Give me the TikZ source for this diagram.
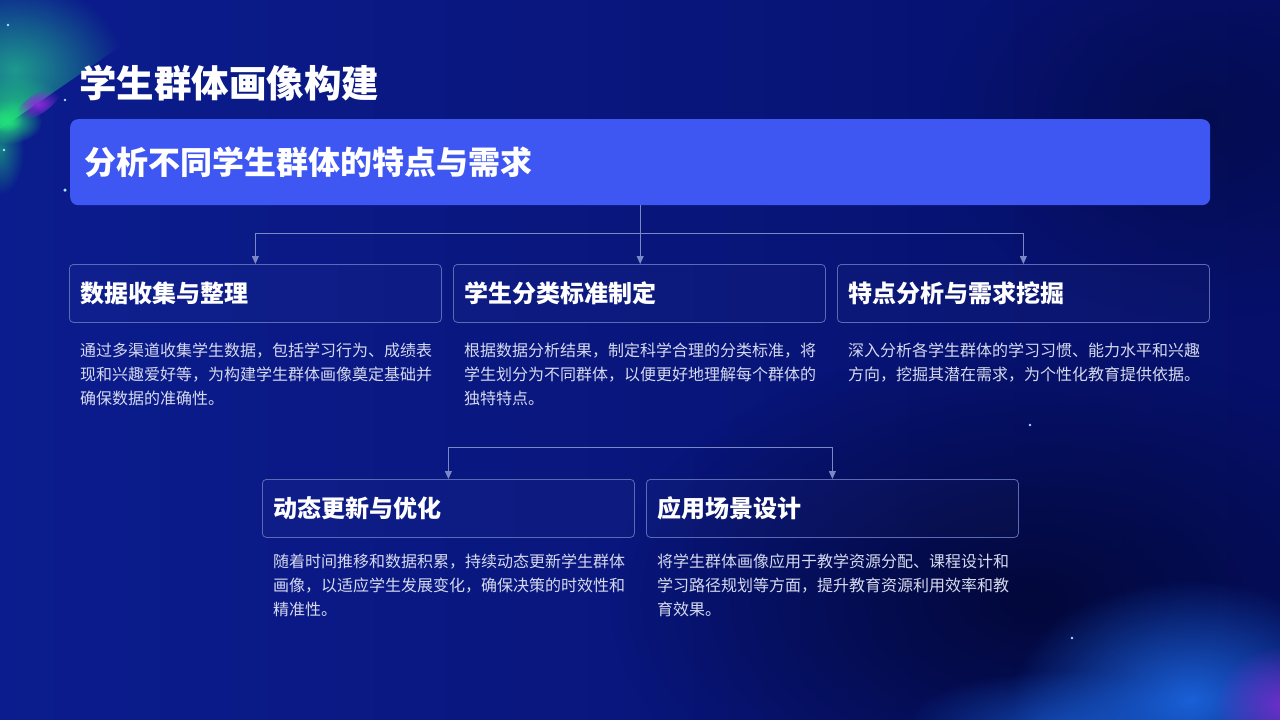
\documentclass[tikz,border=0pt]{standalone}
\usepackage{fontspec}
\setmainfont{Noto Sans CJK SC}
\usetikzlibrary{arrows.meta,fadings}
\tikzfading[name=glowfade, inner color=transparent!0, outer color=transparent!100]
\definecolor{bgL}{HTML}{0B1C8E}
\definecolor{bgR}{HTML}{06106A}
\definecolor{bgDark}{HTML}{020734}
\definecolor{banner}{HTML}{3E56F2}
\definecolor{cardline}{HTML}{5A6AB4}
\definecolor{connc}{HTML}{7C87C6}
\definecolor{desctext}{HTML}{D6DAEE}
\definecolor{glowgreen}{HTML}{22E07A}
\definecolor{glowteal}{HTML}{1E9A8E}
\definecolor{glowpurple}{HTML}{8A2CD8}
\definecolor{glowblue}{HTML}{1C6AE6}
\definecolor{starc}{HTML}{9FE6FF}
\begin{document}
\begin{tikzpicture}[x=1pt,y=-1pt,
  card/.style={draw=cardline, line width=0.8pt, rounded corners=4pt,
    fill=white, fill opacity=0.02, text opacity=1, text=white,
    anchor=north west, minimum height=58pt, text width=350pt,
    inner xsep=11pt, inner ysep=0pt, align=left,
    font=\fontsize{24}{28}\selectfont\bfseries},
  desc/.style={anchor=base west, inner sep=0pt, align=left, text=desctext,
    font=\fontsize{16}{24}\selectfont},
  conn/.style={draw=connc, line width=0.9pt, -{Triangle[width=7pt,length=8pt]}},
  star/.style={fill=starc, circle, inner sep=0pt, minimum size=2.6pt}
]
\useasboundingbox (0,0) rectangle (1280,720);
% background
\shade[left color=bgL, right color=bgR] (0,0) rectangle (1280,720);
\fill[bgDark, path fading=glowfade, opacity=0.9] (1030,600) ellipse (420pt and 260pt);
\fill[bgDark, path fading=glowfade, opacity=0.5] (1200,120) ellipse (260pt and 200pt);
% bottom-right glow
\fill[glowblue, path fading=glowfade, opacity=0.9] (1190,700) ellipse (180pt and 120pt);
\fill[glowblue, path fading=glowfade, opacity=0.6] (1060,730) ellipse (160pt and 60pt);
\fill[glowpurple, path fading=glowfade, opacity=0.8] (1285,705) ellipse (70pt and 60pt);
% top-left glow
\begin{scope}
\clip (0,0) -- (150,0) -- (150,26) -- (0,129) -- cycle;
\fill[glowteal, path fading=glowfade, opacity=1] (15,70) ellipse (110pt and 90pt);
\fill[glowgreen, path fading=glowfade, opacity=0.7] (15,110) ellipse (50pt and 35pt);
\end{scope}
\fill[glowgreen, path fading=glowfade, opacity=1] (8,122) ellipse (34pt and 22pt);
\fill[glowgreen, path fading=glowfade, opacity=0.8] (5,120) ellipse (18pt and 12pt);
\fill[glowpurple, path fading=glowfade, opacity=1, rotate around={34:(38,104)}] (38,104) ellipse (26pt and 10pt);
\fill[glowgreen, path fading=glowfade, opacity=0.5] (0,150) ellipse (24pt and 45pt);
% stars
\node[star] (s1) at (8,25) {};
\node[star] (s2) at (65,100) {};
\node[star, minimum size=3.5pt] (s3) at (65,190) {};
\node[star] (s4) at (4,150) {};
\node[star] (s5) at (1030,425) {};
\node[star] (s6) at (1072,638) {};
% title
\node[anchor=west, inner sep=0pt, text=white, font=\fontsize{37.5}{40}\selectfont\bfseries] (title) at (79,83) {学生群体画像构建};
% banner
\node[anchor=north west, fill=banner, rounded corners=8pt, minimum height=86pt,
  text width=1112pt, inner xsep=14pt, inner ysep=0pt, align=left, text=white,
  font=\fontsize{32}{35}\selectfont\bfseries] (banner) at (70,119) {分析不同学生群体的特点与需求};
% cards row 1
\node[card] (b1) at (69,264) {数据收集与整理};
\node[card] (b2) at (453,264) {学生分类标准制定};
\node[card] (b3) at (837,264) {特点分析与需求挖掘};
% cards row 2
\node[card] (b4) at (262,479) {动态更新与优化};
\node[card] (b5) at (646,479) {应用场景设计};
% descriptions (anchor: baseline of the last line)
\node[desc] (d1) at (80,404) {通过多渠道收集学生数据，包括学习行为、成绩表\\现和兴趣爱好等，为构建学生群体画像奠定基础并\\确保数据的准确性。};
\node[desc] (d2) at (464,404) {根据数据分析结果，制定科学合理的分类标准，将\\学生划分为不同群体，以便更好地理解每个群体的\\独特特点。};
\node[desc] (d3) at (848,380) {深入分析各学生群体的学习习惯、能力水平和兴趣\\方向，挖掘其潜在需求，为个性化教育提供依据。};
\node[desc] (d4) at (273,615) {随着时间推移和数据积累，持续动态更新学生群体\\画像，以适应学生发展变化，确保决策的时效性和\\精准性。};
\node[desc] (d5) at (657,615) {将学生群体画像应用于教学资源分配、课程设计和\\学习路径规划等方面，提升教育资源利用效率和教\\育效果。};
% connectors
\coordinate (j1) at (640,233);
\coordinate (j2) at (640,447);
\draw[conn] (banner.south) -- (banner.south |- b2.north);
\draw[conn] (j1) -| (b1.north);
\draw[conn] (j1) -| (b3.north);
\draw[conn] (j2) -| (b4.north);
\draw[conn] (j2) -| (b5.north);
\end{tikzpicture}
\end{document}
